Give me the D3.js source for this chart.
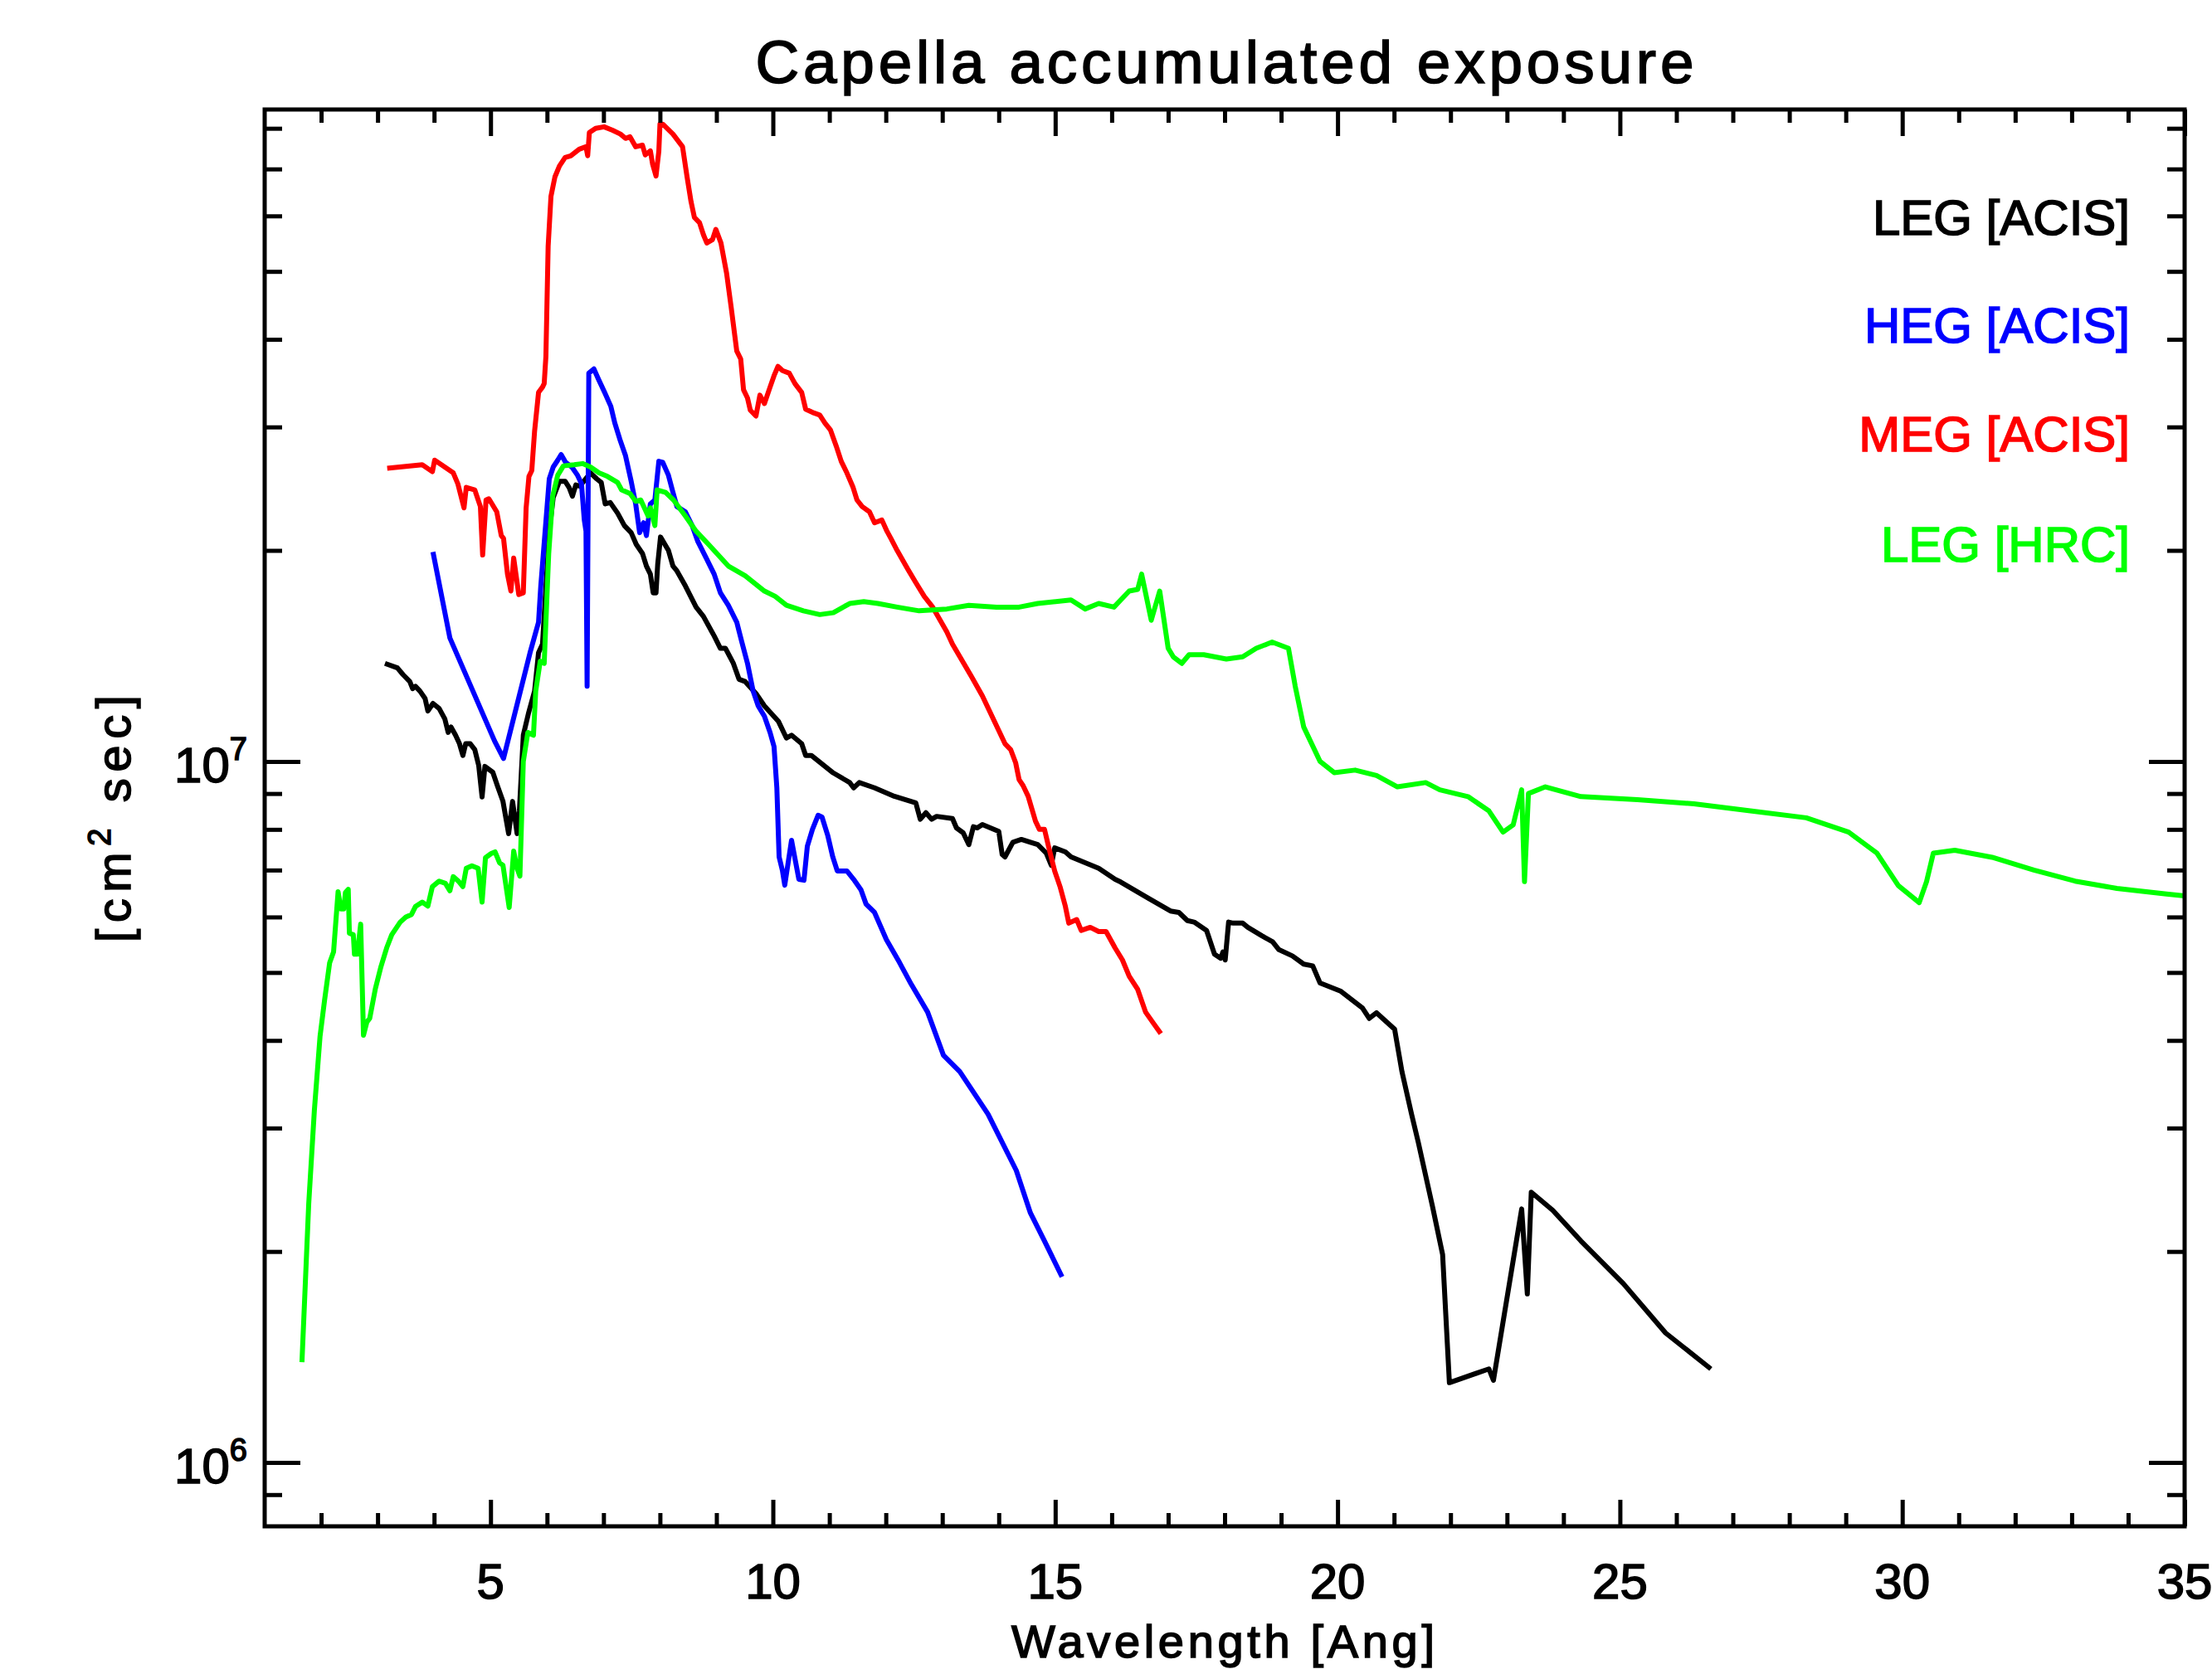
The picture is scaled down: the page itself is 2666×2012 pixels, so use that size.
<!DOCTYPE html>
<html>
<head>
<meta charset="utf-8">
<script src="https://cdn.jsdelivr.net/npm/d3@7"></script>
<style>
  body { margin: 0; background: #fff; }
  svg { display: block; }
  text { font-family: "Liberation Sans", Arial, sans-serif; stroke-width: 1.6px; }
</style>
</head>
<body>
<script>

// exposure curves: [wavelength (Ang), exposure (cm^2 sec)]
var legAcis = [
  [3.13, 1.38e7], [3.35, 1.36e7], [3.45, 1.33e7], [3.57, 1.30e7], [3.62, 1.27e7], [3.67, 1.28e7],
  [3.75, 1.26e7], [3.84, 1.23e7], [3.89, 1.18e7], [3.98, 1.21e7], [4.09, 1.19e7], [4.19, 1.15e7],
  [4.25, 1.10e7], [4.30, 1.12e7], [4.38, 1.09e7], [4.45, 1.06e7], [4.51, 1.02e7], [4.56, 1.06e7],
  [4.64, 1.06e7], [4.72, 1.04e7], [4.79, 9.87e6], [4.85, 8.90e6], [4.90, 9.84e6], [5.04, 9.65e6],
  [5.12, 9.24e6], [5.22, 8.77e6], [5.32, 7.89e6], [5.39, 8.77e6], [5.47, 7.89e6], [5.51, 8.49e6],
  [5.58, 1.09e7], [5.67, 1.17e7], [5.78, 1.26e7], [5.85, 1.43e7], [5.92, 1.47e7], [6.04, 2.13e7],
  [6.11, 2.38e7], [6.22, 2.51e7], [6.32, 2.51e7], [6.39, 2.46e7], [6.45, 2.39e7], [6.51, 2.48e7],
  [6.58, 2.47e7], [6.77, 2.58e7], [6.88, 2.53e7], [6.96, 2.50e7], [7.03, 2.33e7], [7.12, 2.34e7],
  [7.25, 2.26e7], [7.37, 2.17e7], [7.49, 2.12e7], [7.58, 2.04e7], [7.69, 1.98e7], [7.76, 1.90e7],
  [7.83, 1.85e7], [7.88, 1.74e7], [7.93, 1.74e7], [7.96, 1.91e7], [8.01, 2.09e7], [8.15, 2.00e7],
  [8.23, 1.90e7], [8.30, 1.87e7], [8.45, 1.78e7], [8.64, 1.66e7], [8.77, 1.61e7], [8.96, 1.51e7],
  [9.07, 1.45e7], [9.16, 1.45e7], [9.30, 1.38e7], [9.40, 1.31e7], [9.51, 1.30e7], [9.70, 1.25e7],
  [9.85, 1.20e7], [10.10, 1.14e7], [10.24, 1.08e7], [10.33, 1.09e7], [10.51, 1.06e7], [10.58, 1.02e7],
  [10.68, 1.02e7], [11.07, 9.63e6], [11.36, 9.33e6], [11.43, 9.17e6], [11.53, 9.33e6], [11.80, 9.17e6],
  [12.15, 8.92e6], [12.53, 8.73e6], [12.61, 8.27e6], [12.71, 8.45e6], [12.81, 8.27e6], [12.90, 8.35e6],
  [13.18, 8.29e6], [13.25, 8.04e6], [13.37, 7.91e6], [13.47, 7.61e6], [13.55, 8.07e6], [13.62, 8.04e6],
  [13.71, 8.13e6], [14.00, 7.95e6], [14.06, 7.37e6], [14.11, 7.31e6], [14.25, 7.67e6], [14.40, 7.74e6],
  [14.69, 7.61e6], [14.84, 7.40e6], [14.93, 7.11e6], [14.99, 7.53e6], [15.18, 7.43e6], [15.28, 7.31e6],
  [15.77, 7.04e6], [16.06, 6.79e6], [16.16, 6.73e6], [16.65, 6.38e6], [17.04, 6.12e6], [17.19, 6.09e6],
  [17.34, 5.93e6], [17.46, 5.90e6], [17.68, 5.74e6], [17.82, 5.31e6], [17.93, 5.24e6], [17.97, 5.35e6],
  [18.01, 5.21e6], [18.07, 5.90e6], [18.15, 5.88e6], [18.32, 5.88e6], [18.41, 5.80e6], [18.66, 5.64e6],
  [18.85, 5.53e6], [18.96, 5.39e6], [19.20, 5.28e6], [19.40, 5.14e6], [19.56, 5.11e6], [19.69, 4.83e6],
  [20.06, 4.70e6], [20.44, 4.45e6], [20.56, 4.30e6], [20.69, 4.38e6], [21.01, 4.15e6], [21.14, 3.61e6],
  [21.31, 3.14e6], [21.43, 2.86e6], [21.68, 2.32e6], [21.86, 1.98e6], [21.98, 1.30e6], [22.68, 1.36e6],
  [22.76, 1.31e6], [23.26, 2.30e6], [23.36, 1.74e6], [23.43, 2.43e6], [23.81, 2.29e6], [24.31, 2.07e6],
  [25.06, 1.80e6], [25.81, 1.53e6], [26.61, 1.36e6]
];

var hegAcis = [
  [3.98, 1.99e7], [4.28, 1.50e7], [5.07, 1.07e7], [5.23, 1.01e7], [5.70, 1.43e7], [5.85, 1.58e7],
  [5.89, 1.78e7], [6.04, 2.53e7], [6.11, 2.63e7], [6.19, 2.69e7], [6.25, 2.74e7], [6.33, 2.67e7],
  [6.44, 2.63e7], [6.54, 2.56e7], [6.61, 2.49e7], [6.66, 2.21e7], [6.69, 2.13e7], [6.71, 1.28e7],
  [6.74, 3.58e7], [6.83, 3.63e7], [6.91, 3.51e7], [7.02, 3.36e7], [7.13, 3.21e7], [7.20, 3.04e7],
  [7.29, 2.88e7], [7.39, 2.73e7], [7.49, 2.51e7], [7.57, 2.33e7], [7.64, 2.12e7], [7.71, 2.19e7],
  [7.76, 2.10e7], [7.83, 2.33e7], [7.91, 2.36e7], [7.98, 2.68e7], [8.05, 2.67e7], [8.15, 2.56e7],
  [8.23, 2.42e7], [8.30, 2.31e7], [8.45, 2.27e7], [8.57, 2.17e7], [8.67, 2.06e7], [8.82, 1.95e7],
  [8.96, 1.85e7], [9.07, 1.74e7], [9.21, 1.67e7], [9.36, 1.58e7], [9.45, 1.48e7], [9.55, 1.38e7],
  [9.65, 1.26e7], [9.74, 1.20e7], [9.85, 1.16e7], [9.95, 1.10e7], [10.02, 1.05e7], [10.07, 9.17e6],
  [10.11, 7.31e6], [10.17, 6.98e6], [10.21, 6.66e6], [10.33, 7.72e6], [10.46, 6.79e6], [10.55, 6.77e6],
  [10.61, 7.57e6], [10.70, 8.00e6], [10.80, 8.38e6], [10.87, 8.33e6], [10.97, 7.85e6], [11.06, 7.31e6],
  [11.14, 6.98e6], [11.31, 6.98e6], [11.43, 6.79e6], [11.56, 6.56e6], [11.65, 6.26e6], [11.80, 6.09e6],
  [12.01, 5.57e6], [12.24, 5.17e6], [12.45, 4.81e6], [12.74, 4.39e6], [13.02, 3.81e6], [13.31, 3.61e6],
  [13.81, 3.14e6], [14.31, 2.61e6], [14.56, 2.27e6], [14.81, 2.07e6], [15.12, 1.84e6]
];

var megAcis = [
  [3.17, 2.62e7], [3.79, 2.65e7], [3.97, 2.59e7], [4.01, 2.69e7], [4.13, 2.65e7], [4.34, 2.58e7],
  [4.42, 2.49e7], [4.53, 2.30e7], [4.57, 2.46e7], [4.72, 2.44e7], [4.82, 2.31e7], [4.86, 1.97e7],
  [4.92, 2.36e7], [4.97, 2.37e7], [5.11, 2.27e7], [5.19, 2.10e7], [5.23, 2.08e7], [5.30, 1.85e7],
  [5.36, 1.75e7], [5.41, 1.95e7], [5.50, 1.73e7], [5.58, 1.74e7], [5.63, 2.30e7], [5.68, 2.55e7],
  [5.73, 2.60e7], [5.78, 2.96e7], [5.85, 3.36e7], [5.92, 3.42e7], [5.95, 3.46e7], [5.98, 3.78e7],
  [6.02, 5.43e7], [6.07, 6.40e7], [6.14, 6.82e7], [6.22, 7.07e7], [6.32, 7.27e7], [6.42, 7.31e7],
  [6.57, 7.47e7], [6.69, 7.53e7], [6.72, 7.31e7], [6.75, 7.89e7], [6.86, 8.00e7], [7.01, 8.04e7],
  [7.16, 7.95e7], [7.30, 7.85e7], [7.39, 7.74e7], [7.47, 7.78e7], [7.57, 7.53e7], [7.69, 7.57e7],
  [7.74, 7.33e7], [7.83, 7.43e7], [7.87, 7.11e7], [7.93, 6.84e7], [7.98, 7.42e7], [8.00, 8.11e7],
  [8.05, 8.11e7], [8.23, 7.85e7], [8.40, 7.53e7], [8.48, 6.82e7], [8.55, 6.29e7], [8.61, 5.97e7],
  [8.70, 5.87e7], [8.77, 5.64e7], [8.83, 5.49e7], [8.93, 5.55e7], [8.99, 5.74e7], [9.08, 5.49e7],
  [9.18, 4.97e7], [9.26, 4.45e7], [9.36, 3.85e7], [9.43, 3.75e7], [9.48, 3.39e7], [9.55, 3.30e7],
  [9.60, 3.17e7], [9.70, 3.11e7], [9.77, 3.33e7], [9.85, 3.24e7], [9.95, 3.42e7], [10.02, 3.55e7],
  [10.09, 3.66e7], [10.17, 3.61e7], [10.29, 3.58e7], [10.39, 3.46e7], [10.51, 3.36e7], [10.58, 3.18e7],
  [10.73, 3.14e7], [10.83, 3.12e7], [10.92, 3.04e7], [11.02, 2.97e7], [11.12, 2.82e7], [11.21, 2.68e7],
  [11.31, 2.58e7], [11.42, 2.46e7], [11.49, 2.36e7], [11.58, 2.31e7], [11.71, 2.27e7], [11.80, 2.19e7],
  [11.93, 2.21e7], [12.02, 2.13e7], [12.09, 2.08e7], [12.20, 2.00e7], [12.39, 1.88e7], [12.53, 1.80e7],
  [12.68, 1.72e7], [12.83, 1.66e7], [13.08, 1.53e7], [13.18, 1.47e7], [13.52, 1.32e7], [13.71, 1.24e7],
  [14.11, 1.06e7], [14.21, 1.04e7], [14.30, 9.95e6], [14.36, 9.42e6], [14.43, 9.24e6], [14.52, 8.92e6],
  [14.65, 8.22e6], [14.72, 8.00e6], [14.81, 8.00e6], [14.88, 7.57e6], [14.99, 6.98e6], [15.09, 6.61e6],
  [15.18, 6.21e6], [15.24, 5.88e6], [15.38, 5.95e6], [15.46, 5.74e6], [15.62, 5.80e6], [15.77, 5.72e6],
  [15.90, 5.72e6], [16.06, 5.42e6], [16.19, 5.21e6], [16.31, 4.94e6], [16.46, 4.73e6], [16.60, 4.39e6],
  [16.75, 4.22e6], [16.87, 4.09e6]
];

var legHrc = [
  [1.66, 1.39e6], [1.78, 2.34e6], [1.88, 3.18e6], [1.98, 4.05e6], [2.06, 4.56e6], [2.15, 5.16e6],
  [2.22, 5.35e6], [2.30, 6.52e6], [2.35, 6.16e6], [2.40, 6.16e6], [2.43, 6.50e6], [2.48, 6.57e6],
  [2.50, 5.69e6], [2.57, 5.66e6], [2.59, 5.31e6], [2.64, 5.31e6], [2.70, 5.86e6], [2.75, 4.07e6],
  [2.81, 4.25e6], [2.86, 4.30e6], [2.96, 4.74e6], [3.06, 5.10e6], [3.16, 5.42e6], [3.25, 5.66e6],
  [3.40, 5.90e6], [3.50, 6.00e6], [3.60, 6.05e6], [3.67, 6.21e6], [3.79, 6.30e6], [3.89, 6.22e6],
  [3.97, 6.63e6], [4.09, 6.75e6], [4.20, 6.70e6], [4.28, 6.54e6], [4.34, 6.85e6], [4.43, 6.75e6],
  [4.51, 6.63e6], [4.57, 7.04e6], [4.67, 7.10e6], [4.78, 7.04e6], [4.85, 6.30e6], [4.91, 7.29e6],
  [5.01, 7.39e6], [5.08, 7.43e6], [5.16, 7.17e6], [5.22, 7.11e6], [5.33, 6.19e6], [5.41, 7.45e6],
  [5.47, 7.04e6], [5.52, 6.86e6], [5.58, 1.00e7], [5.66, 1.10e7], [5.76, 1.09e7], [5.80, 1.26e7],
  [5.88, 1.39e7], [5.95, 1.38e7], [6.03, 1.98e7], [6.10, 2.39e7], [6.19, 2.56e7], [6.29, 2.64e7],
  [6.48, 2.65e7], [6.63, 2.66e7], [6.77, 2.63e7], [6.92, 2.58e7], [7.07, 2.55e7], [7.25, 2.50e7],
  [7.32, 2.44e7], [7.47, 2.41e7], [7.57, 2.35e7], [7.66, 2.36e7], [7.79, 2.24e7], [7.83, 2.30e7],
  [7.91, 2.17e7], [7.95, 2.44e7], [8.10, 2.42e7], [8.24, 2.36e7], [8.45, 2.24e7], [8.64, 2.13e7],
  [8.86, 2.04e7], [9.21, 1.90e7], [9.51, 1.84e7], [9.85, 1.75e7], [10.04, 1.72e7], [10.24, 1.67e7],
  [10.54, 1.64e7], [10.83, 1.62e7], [11.07, 1.63e7], [11.36, 1.68e7], [11.61, 1.69e7], [11.86, 1.68e7],
  [12.20, 1.66e7], [12.59, 1.64e7], [13.08, 1.65e7], [13.47, 1.67e7], [13.96, 1.66e7], [14.36, 1.66e7],
  [14.69, 1.68e7], [15.28, 1.70e7], [15.53, 1.65e7], [15.77, 1.68e7], [16.04, 1.66e7], [16.16, 1.70e7],
  [16.31, 1.75e7], [16.46, 1.76e7], [16.53, 1.85e7], [16.70, 1.59e7], [16.85, 1.75e7], [17.00, 1.45e7],
  [17.09, 1.41e7], [17.24, 1.38e7], [17.37, 1.42e7], [17.63, 1.42e7], [18.03, 1.40e7], [18.32, 1.41e7],
  [18.56, 1.45e7], [18.84, 1.48e7], [19.13, 1.45e7], [19.25, 1.28e7], [19.40, 1.12e7], [19.69, 1.00e7],
  [19.94, 9.64e6], [20.31, 9.72e6], [20.69, 9.55e6], [21.06, 9.20e6], [21.56, 9.33e6], [21.81, 9.11e6],
  [22.31, 8.91e6], [22.68, 8.50e6], [22.93, 7.93e6], [23.11, 8.12e6], [23.26, 9.11e6], [23.31, 6.74e6],
  [23.38, 9.00e6], [23.68, 9.20e6], [24.31, 8.91e6], [25.31, 8.82e6], [26.31, 8.70e6], [27.31, 8.50e6],
  [28.30, 8.31e6], [29.05, 7.93e6], [29.55, 7.40e6], [29.93, 6.65e6], [30.30, 6.29e6], [30.43, 6.74e6],
  [30.55, 7.40e6], [30.93, 7.47e6], [31.59, 7.30e6], [32.33, 7.00e6], [33.06, 6.75e6], [33.80, 6.59e6],
  [34.68, 6.47e6], [35.00, 6.43e6]
];

var seriesNames  = ['LEG [ACIS]', 'HEG [ACIS]', 'MEG [ACIS]', 'LEG [HRC]'];
var seriesColors = ['#000000', '#0000ff', '#ff0000', '#00ff00'];
var seriesData   = [legAcis, hegAcis, megAcis, legHrc];

var xTickLabels = [5, 10, 15, 20, 25, 30, 35];
var yMajorTicks = [1e6, 1e7];
var yTickExps   = ['6', '7'];
var yMinorTicks = [9e5, 2e6, 3e6, 4e6, 5e6, 6e6, 7e6, 8e6, 9e6,
                   2e7, 3e7, 4e7, 5e7, 6e7, 7e7, 8e7];

var width  = 2666;
var height = 2012;
var plotLeft = 319, plotRight = 2633, plotTop = 132, plotBottom = 1840;

var x = d3.scaleLinear().domain([1, 35]).range([plotLeft, plotRight]);
var y = d3.scaleLog().domain([8.11e5, 8.51e7]).range([plotBottom, plotTop]);

var xMinorTicks = d3.range(2, 35).filter(function(d){ return d % 5 !== 0; });

var svg = d3.select('body')
            .append('svg')
            .attr('width', width)
            .attr('height', height);

svg.append('rect')
   .attr('width', width).attr('height', height).attr('fill', '#fff');

// data lines
var line = d3.line()
             .x(function(d){ return x(d[0]); })
             .y(function(d){ return y(d[1]); });

svg.selectAll('path.curve')
   .data(seriesData)
   .enter()
   .append('path')
   .attr('class', 'curve')
   .attr('d', line)
   .attr('fill', 'none')
   .attr('stroke', function(d, i){ return seriesColors[i]; })
   .attr('stroke-width', 6)
   .attr('stroke-linejoin', 'round');

// axes: ticks point inward on all four sides
function tickAxis(axis, values, size, tx, ty) {
  var g = svg.append('g')
             .attr('transform', 'translate(' + tx + ',' + ty + ')')
             .call(axis.tickValues(values).tickSize(size).tickSizeOuter(0).tickFormat(''));
  g.select('.domain').remove();
  g.selectAll('line').attr('stroke', '#000').attr('stroke-width', 5);
  g.selectAll('text').remove();
}

tickAxis(d3.axisBottom(x), xMinorTicks, -16, 0, plotBottom);
tickAxis(d3.axisBottom(x), xTickLabels, -32, 0, plotBottom);
tickAxis(d3.axisTop(x),    xMinorTicks, -16, 0, plotTop);
tickAxis(d3.axisTop(x),    xTickLabels, -32, 0, plotTop);
tickAxis(d3.axisLeft(y),   yMinorTicks, -21, plotLeft, 0);
tickAxis(d3.axisLeft(y),   yMajorTicks, -43, plotLeft, 0);
tickAxis(d3.axisRight(y),  yMinorTicks, -21, plotRight, 0);
tickAxis(d3.axisRight(y),  yMajorTicks, -43, plotRight, 0);

svg.append('rect')
   .attr('x', plotLeft).attr('y', plotTop)
   .attr('width', plotRight - plotLeft).attr('height', plotBottom - plotTop)
   .attr('fill', 'none').attr('stroke', '#000').attr('stroke-width', 5);

// tick labels
svg.selectAll('text.xlab')
   .data(xTickLabels)
   .enter()
   .append('text')
   .attr('class', 'xlab')
   .attr('x', function(d){ return x(d); })
   .attr('y', 1927)
   .attr('text-anchor', 'middle')
   .attr('font-size', 60)
   .attr('stroke', '#000')
   .text(function(d){ return d; });

var ylab = svg.selectAll('text.ylab')
   .data(yMajorTicks)
   .enter()
   .append('text')
   .attr('class', 'ylab')
   .attr('x', 298)
   .attr('y', function(d){ return y(d) + 25; })
   .attr('text-anchor', 'end')
   .attr('stroke', '#000');
ylab.append('tspan').attr('font-size', 60).text('10');
ylab.append('tspan').attr('font-size', 38).attr('dy', -27)
    .text(function(d, i){ return yTickExps[i]; });

// titles
svg.append('text')
   .attr('x', (plotLeft + plotRight) / 2).attr('y', 100)
   .attr('text-anchor', 'middle')
   .attr('font-size', 73)
   .attr('stroke', '#000')
   .attr('textLength', 1131).attr('lengthAdjust', 'spacing')
   .text('Capella accumulated exposure');

svg.append('text')
   .attr('x', 1474).attr('y', 1998)
   .attr('text-anchor', 'middle')
   .attr('font-size', 56)
   .attr('stroke', '#000')
   .attr('textLength', 510).attr('lengthAdjust', 'spacing')
   .text('Wavelength [Ang]');

var ytitle = svg.append('text')
   .attr('transform', 'translate(157,987) rotate(-90)')
   .attr('text-anchor', 'middle')
   .attr('font-size', 58)
   .attr('stroke', '#000')
   .attr('textLength', 298).attr('lengthAdjust', 'spacing');
ytitle.append('tspan').text('[cm');
ytitle.append('tspan').attr('font-size', 38).attr('dy', -24).text('2');
ytitle.append('tspan').attr('dy', 24).text(' sec]');

// legend, right aligned inside the plot
var legendY = [283, 413, 544, 677];
svg.selectAll('text.legend')
   .data(seriesNames)
   .enter()
   .append('text')
   .attr('class', 'legend')
   .attr('x', 2567)
   .attr('y', function(d, i){ return legendY[i]; })
   .attr('text-anchor', 'end')
   .attr('font-size', 60)
   .attr('fill', function(d, i){ return seriesColors[i]; })
   .attr('stroke', function(d, i){ return seriesColors[i]; })
   .text(function(d){ return d; });

</script>
</body>
</html>
